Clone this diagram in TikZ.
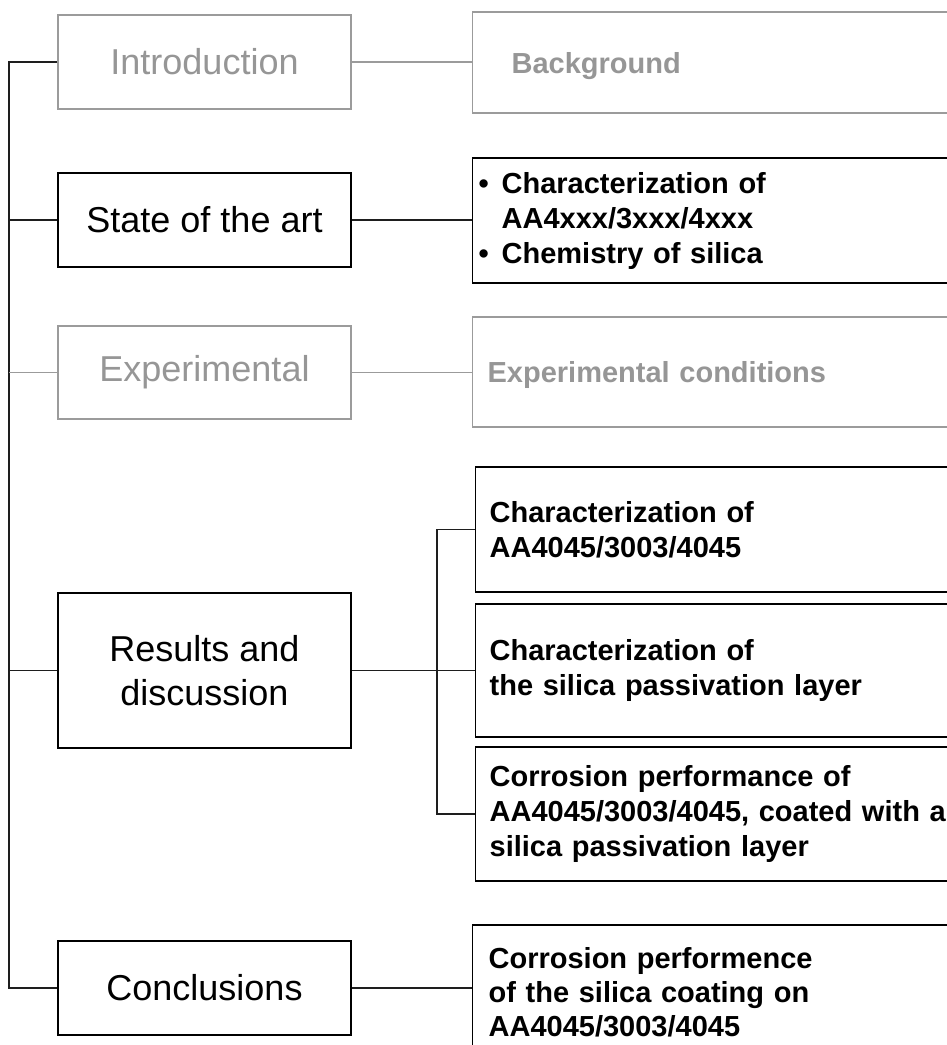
\documentclass[tikz,border=0pt]{standalone}
\usepackage{fontspec}
\setmainfont{Liberation Sans}
\definecolor{txtgray}{RGB}{150,150,150}
\definecolor{boxgray}{RGB}{155,155,155}
\definecolor{linedark}{RGB}{30,30,30}
\begin{document}
\begin{tikzpicture}[x=1pt,y=-1pt,
  lbox/.style={draw=black, line width=1.3pt, minimum width=293pt, align=center,
    inner sep=0pt, font={\fontsize{36}{44}\selectfont}},
  lboxg/.style={lbox, draw=boxgray, text=txtgray},
  rbox/.style={draw=black, line width=1.3pt, anchor=west, align=left, text width=480pt,
    inner ysep=0pt, font={\fontsize{29}{35}\selectfont\bfseries}},
  rboxg/.style={rbox, draw=boxgray, text=txtgray, text depth=0pt},
  conn/.style={line width=1.3pt, draw=linedark},
  conng/.style={line width=1.3pt, draw=boxgray}]
\useasboundingbox (0,0) rectangle (947,1045);
\clip (0,0) rectangle (947,1045);
\fill[white] (0,0) rectangle (947,1045);

\coordinate (tr) at (9,0);
\coordinate (st) at (437,0);

% left column
\node[lboxg, minimum height=94pt] (intro) at (204.5,62) {Introduction};
\node[lbox, minimum height=94pt] (state) at (204.5,220) {State of the art};
\node[lboxg, minimum height=93pt] (exper) at (204.5,372.5) {Experimental};
\node[lbox, minimum height=155pt] (res) at (204.5,670.5) {Results and\\discussion};
\node[lbox, minimum height=94pt] (concl) at (204.5,988) {Conclusions};

% right column
\node[rboxg, inner xsep=39pt, minimum height=101pt] (backg) at (472,62.5) {Background};
\node[rbox, inner xsep=6pt, minimum height=125pt] (soa) at (472,220.5)
  {\makebox[23pt][l]{\textbullet}Characterization of\\
   \hspace*{23pt}AA4xxx/3xxx/4xxx\\
   \makebox[23pt][l]{\textbullet}Chemistry of silica};
\node[rboxg, inner xsep=15pt, minimum height=110pt] (expc) at (472,372) {Experimental conditions};
\node[rbox, inner xsep=14pt, minimum height=125pt] (sub1) at (475,529.5)
  {Characterization of\\AA4045/3003/4045};
\node[rbox, inner xsep=14pt, minimum height=133pt] (sub2) at (475,670.5)
  {Characterization of\\the silica passivation layer};
\node[rbox, inner xsep=14pt, minimum height=134pt] (sub3) at (475,814)
  {Corrosion performance of\\AA4045/3003/4045, coated with a\\silica passivation layer};
\node[rbox, inner xsep=16pt, minimum height=134pt, font={\fontsize{29}{34}\selectfont\bfseries}] (concr) at (472,992)
  {Corrosion performence\\of the silica coating on\\AA4045/3003/4045};

% trunk
\draw[conn] (intro.west) -- (intro.west -| tr) -- (concl.west -| tr) -- (concl.west);
\draw[conn] (state.west) -- (state.west -| tr);
\draw[conng] (exper.west) -- (exper.west -| tr);
\draw[conn] (res.west) -- (res.west -| tr);

% horizontal connectors
\draw[conng] (intro.east) -- (intro.east -| backg.west);
\draw[conn] (state.east) -- (state.east -| soa.west);
\draw[conng] (exper.east) -- (exper.east -| expc.west);
\draw[conn] (res.east) -- (res.east -| sub2.west);
\draw[conn] (concl.east) -- (concl.east -| concr.west);

% sub trunk
\draw[conn] (sub1.west) -- (sub1.west -| st) -- (sub3.west -| st) -- (sub3.west);
\end{tikzpicture}
\end{document}
